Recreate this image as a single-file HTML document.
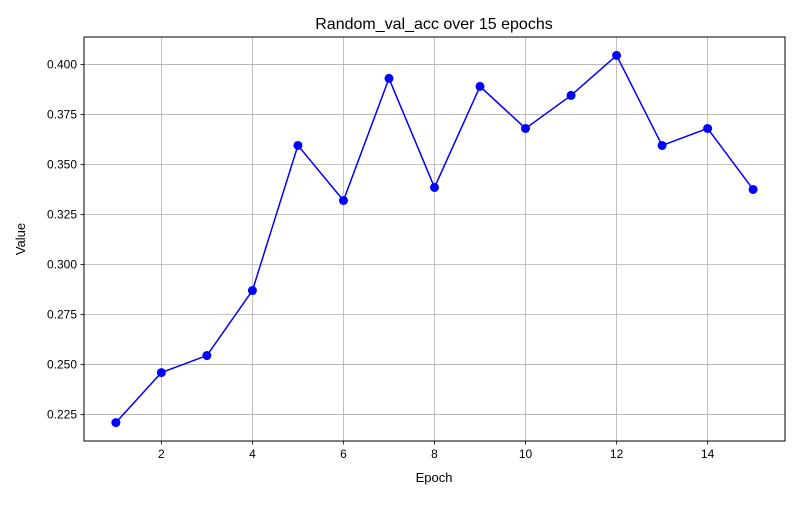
<!DOCTYPE html>
<html><head><meta charset="utf-8"><style>
body{margin:0;background:#fff;}
svg text{font-family:"Liberation Sans","DejaVu Sans",sans-serif;fill:#000;}
</style></head><body>
<svg id="chart" width="800" height="500" xmlns="http://www.w3.org/2000/svg">
<rect width="800" height="500" fill="#fff"/>
<g id="grid"></g>
<g id="ticks"></g>
<rect x="84" y="37" width="701" height="404" fill="none" stroke="#000" stroke-width="1"/>
<g id="series"></g>
<text x="434" y="29" font-size="16" text-anchor="middle">Random_val_acc over 15 epochs</text>
<text x="434" y="482" font-size="13" text-anchor="middle">Epoch</text>
<text x="25" y="239" font-size="13" text-anchor="middle" transform="rotate(-90 25 239)">Value</text>
</svg>
<script>
const epochs=[1,2,3,4,5,6,7,8,9,10,11,12,13,14,15];
const values=[0.221,0.246,0.2545,0.287,0.3595,0.332,0.393,0.3385,0.389,0.368,0.3845,0.4045,0.3595,0.368,0.3375];
const xTicks=[2,4,6,8,10,12,14];
const yTicks=[0.225,0.250,0.275,0.300,0.325,0.350,0.375,0.400];
const L=84,R=785,T=37,B=441;
const xmin=0.3,xmax=15.7;
const ymin=0.2118,ymax=0.4137;
const sx=v=>L+(v-xmin)/(xmax-xmin)*(R-L);
const sy=v=>B-(v-ymin)/(ymax-ymin)*(B-T);
const NS="http://www.w3.org/2000/svg";
function mk(tag,attrs,parent){const e=document.createElementNS(NS,tag);for(const k in attrs)e.setAttribute(k,attrs[k]);parent.appendChild(e);return e;}
const grid=document.getElementById('grid'),ticks=document.getElementById('ticks'),series=document.getElementById('series');
xTicks.forEach(t=>{const x=sx(t);
 const g=mk('line',{x1:x,x2:x,y1:T,y2:B,stroke:'#b0b0b0','stroke-width':0.8},grid);
 
 
 mk('line',{x1:x,x2:x,y1:B,y2:B+3.5,stroke:'#000','stroke-width':0.8},ticks);
 const tx=mk('text',{x:x,y:B+17,'font-size':12,'text-anchor':'middle'},ticks);tx.textContent=t;
 
 
});
yTicks.forEach(t=>{const y=sy(t);
 const g=mk('line',{x1:L,x2:R,y1:y,y2:y,stroke:'#b0b0b0','stroke-width':0.8},grid);
 
 
 mk('line',{x1:L-3.5,x2:L,y1:y,y2:y,stroke:'#000','stroke-width':0.8},ticks);
 const tx=mk('text',{x:L-7,y:y+4,'font-size':12,'text-anchor':'end'},ticks);tx.textContent=t.toFixed(3);
 
 
});
const pts=epochs.map((e,i)=>sx(e)+','+sy(values[i])).join(' ');
const line=mk('polyline',{points:pts,fill:'none',stroke:'#0000ff','stroke-width':1.5},series);


epochs.forEach((e,i)=>{
 const c=mk('circle',{cx:sx(e),cy:sy(values[i]),r:4.5,fill:'#0000ff'},series);
 
 
});
</script>
</body></html>
